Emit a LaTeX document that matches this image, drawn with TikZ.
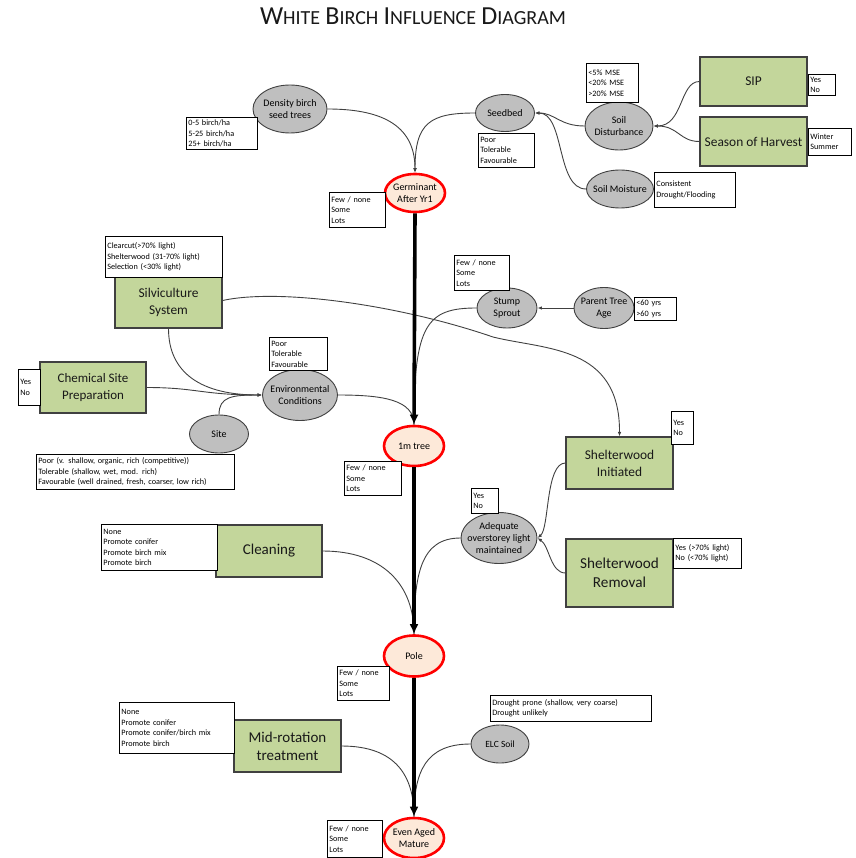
\documentclass[tikz,border=0pt]{standalone}
\usepackage{fontspec}
\setmainfont{Carlito}
\usetikzlibrary{shapes.geometric,arrows.meta}
\definecolor{grn}{HTML}{C3D69B}
\definecolor{gry}{HTML}{BFBFBF}
\definecolor{pch}{HTML}{FDE9D9}
\definecolor{lnk}{HTML}{404040}
\newcommand\tcap[2]{{\fontsize{26}{26}\selectfont #1}{\fontsize{20}{20}\selectfont #2}}
\newcommand\lbox[6]{%
  \pgfmathsetmacro\lbw{#4-#2-4}\pgfmathsetmacro\lbh{#5-#3}%
  \node[lst, text width=\lbw pt, minimum height=\lbh pt] (#1) at (#2,#3) {#6};}
\begin{document}
\begin{tikzpicture}[x=1pt,y=-1pt,
  gel/.style={ellipse, draw=lnk, line width=0.9pt, fill=gry, inner sep=-12pt, align=center,
    font=\fontsize{10}{12}\selectfont, text=black},
  rel/.style={ellipse, draw=red, line width=2.6pt, fill=pch, inner sep=-12pt, align=center,
    font=\fontsize{10}{12}\selectfont, text=black},
  grect/.style={rectangle, draw=lnk, line width=1.1pt, fill=grn, inner sep=0pt, align=center,
    font=\fontsize{13.4}{17}\selectfont, text=black!90},
  lst/.style={rectangle, draw=black, line width=0.8pt, fill=white, anchor=north west,
    align=left, inner sep=2pt, font=\fontsize{8.2}{10.5}\selectfont},
  link/.style={draw=lnk, line width=0.9pt},
  arr/.style={link, -{Latex[length=4.5pt,width=3.5pt]}},
  spine/.style={draw=black, line width=3.6pt, -{Latex[length=10pt,width=9pt]}}
]
\useasboundingbox (0,0) rectangle (855,858);

% title
\node[text=black!90, font=\fontsize{23}{23}\selectfont] (title) at (413,16) {\tcap{W}{HITE} \tcap{B}{IRCH} \tcap{I}{NFLUENCE} \tcap{D}{IAGRAM}};

% gray ellipses
\node[gel, minimum width=74, minimum height=48] (dens) at (290,109) {Density birch\\seed trees};
\node[gel, minimum width=59, minimum height=37] (seed) at (505,113) {Seedbed};
\node[gel, minimum width=68, minimum height=48] (sdist) at (619,126) {Soil\\Disturbance};
\node[gel, minimum width=67, minimum height=38] (smoist) at (620,189) {Soil Moisture};
\node[gel, minimum width=60, minimum height=40] (stump) at (507,308) {Stump\\Sprout};
\node[gel, minimum width=60, minimum height=41] (pta) at (604,308) {Parent Tree\\Age};
\node[gel, minimum width=75, minimum height=51] (env) at (300,395) {Environmental\\Conditions};
\node[gel, minimum width=59, minimum height=38] (site) at (219,434) {Site};
\node[gel, minimum width=76, minimum height=51, font=\fontsize{10}{12}\selectfont] (adq) at (499,538) {Adequate\\overstorey light\\maintained};
\node[gel, minimum width=58, minimum height=38, font=\fontsize{9.5}{12}\selectfont] (elc) at (500,744) {ELC Soil};

% red ellipses
\node[rel, minimum width=60, minimum height=38] (germ) at (415,193) {Germinant\\After Yr1};
\node[rel, minimum width=60, minimum height=40] (tree1) at (414,446) {1m tree};
\node[rel, minimum width=60, minimum height=41] (pole) at (414,656) {Pole};
\node[rel, minimum width=60, minimum height=40] (eam) at (414,838) {Even Aged\\Mature};

% green boxes
\node[grect, minimum width=107, minimum height=49] (sip) at (753.5,81.5) {SIP};
\node[grect, minimum width=107, minimum height=49] (soh) at (753.5,141.5) {Season of Harvest};
\node[grect, minimum width=107, minimum height=51] (silv) at (168.5,302.5) {Silviculture\\System};
\node[grect, minimum width=106, minimum height=51, font=\fontsize{13}{17}\selectfont] (csp) at (93,387.5) {Chemical Site\\Preparation};
\node[grect, minimum width=107, minimum height=52] (swi) at (619.5,463) {Shelterwood\\Initiated};
\node[grect, minimum width=107, minimum height=68, font=\fontsize{15.2}{19}\selectfont] (swr) at (619.5,573) {Shelterwood\\Removal};
\node[grect, minimum width=106, minimum height=52, font=\fontsize{15}{18}\selectfont] (cln) at (269,551) {Cleaning};
\node[grect, minimum width=107, minimum height=52, font=\fontsize{15}{18}\selectfont] (mrt) at (287.5,746) {Mid-rotation\\treatment};

% thin connectors
\draw[arr] (dens.east) .. controls +(50,0) and +(0,-50) .. (germ.north);
\draw[arr] (seed.west) .. controls +(-45,0) and +(0,-50) .. (germ.north);
\draw[arr] (sdist.west) .. controls +(-25,0) and +(20,0) .. (seed.east);
\draw[arr] (smoist.west) .. controls +(-30,0) and +(30,0) .. (seed.east);
\draw[arr] (sip.west) .. controls +(-20,0) and +(30,0) .. (sdist.east);
\draw[arr] (soh.west) .. controls +(-20,0) and +(25,0) .. (sdist.east);
\draw[arr] (pta.west) -- (stump.east);
\draw[link] (stump.west) .. controls +(-50,0) and +(0,-100) .. (tree1.north);
\draw[arr] ([yshift=2pt]silv.east) .. controls (280,288) and (400,305) .. (493,337)
  .. controls (545,350) and (620,345) .. (swi.north);
\draw[arr] (silv.south) .. controls +(0,45) and +(-60,0) .. (env.west);
\draw[arr] (csp.east) .. controls +(50,0) and +(-60,0) .. (env.west);
\draw[arr] (site.north) .. controls +(0,-18) and +(-30,0) .. (env.west);
\draw[link] (env.east) .. controls +(45,0) and +(0,-25) .. (tree1.north);
\draw[arr] (swi.west) .. controls +(-20,0) and +(12,-10) .. (adq.east);
\draw[arr] (swr.west) .. controls +(-15,0) and +(12,8) .. (adq.east);
\draw[link] (cln.east) .. controls +(60,0) and +(0,-50) .. (pole.north);
\draw[link] (adq.west) .. controls +(-40,0) and +(0,-60) .. (pole.north);
\draw[link] (mrt.east) .. controls +(55,0) and +(0,-40) .. (eam.north);
\draw[link] (elc.west) .. controls +(-45,0) and +(0,-45) .. (eam.north);

% spine
\draw[spine] (germ.south) -- (tree1.north);
\draw[spine] (tree1.south) -- (pole.north);
\draw[spine] (pole.south) -- (eam.north);

% lists
\lbox{ldens}{186}{117}{257}{149}{0-5 birch/ha\\5-25 birch/ha\\25+ birch/ha}
\lbox{lgerm}{329}{192}{385}{227}{Few / none\\Some\\Lots}
\lbox{lseed}{478}{133}{534}{167}{Poor\\Tolerable\\Favourable}
\lbox{lsd}{586}{63}{638}{102}{<5\% MSE\\<20\% MSE\\>20\% MSE}
\lbox{lsip}{808}{74}{835}{95}{Yes\\No}
\lbox{lsoh}{808}{128}{851}{155}{Winter\\Summer}
\lbox{lsm}{654}{172}{735}{207}{Consistent\\Drought/Flooding}
\lbox{lsilv}{105}{236}{222}{277}{Clearcut(>70\% light)\\Shelterwood (31-70\% light)\\Selection (<30\% light)}
\lbox{lcsp}{18}{369}{40}{405}{Yes\\No}
\lbox{lsite}{36}{454}{234}{489}{Poor (v. shallow, organic, rich (competitive))\\Tolerable (shallow, wet, mod. rich)\\Favourable (well drained, fresh, coarser, low rich)}
\lbox{lenv}{269}{337}{327}{370}{Poor\\Tolerable\\Favourable}
\lbox{lstump}{454}{255}{509}{290}{Few / none\\Some\\Lots}
\lbox{lpta}{634}{297}{676}{320}{<60 yrs\\>60 yrs}
\lbox{ltree}{344}{461}{401}{495}{Few / none\\Some\\Lots}
\lbox{lswi}{671}{411}{693}{444}{Yes\\No}
\lbox{ladq}{471}{488}{498}{513}{Yes\\No}
\lbox{lswr}{673}{538}{741}{568}{Yes (>70\% light)\\No (<70\% light)}
\lbox{lcln}{101}{524}{217}{570}{None\\Promote conifer\\Promote birch mix\\Promote birch}
\lbox{lpole}{337}{666}{389}{700}{Few / none\\Some\\Lots}
\lbox{lmrt}{119}{702}{234}{753}{None\\Promote conifer\\Promote conifer/birch mix\\Promote birch}
\lbox{lelc}{490}{695}{651}{721}{Drought prone (shallow, very coarse)\\Drought unlikely}
\lbox{leam}{327}{820}{382}{857}{Few / none\\Some\\Lots}
\end{tikzpicture}
\end{document}
